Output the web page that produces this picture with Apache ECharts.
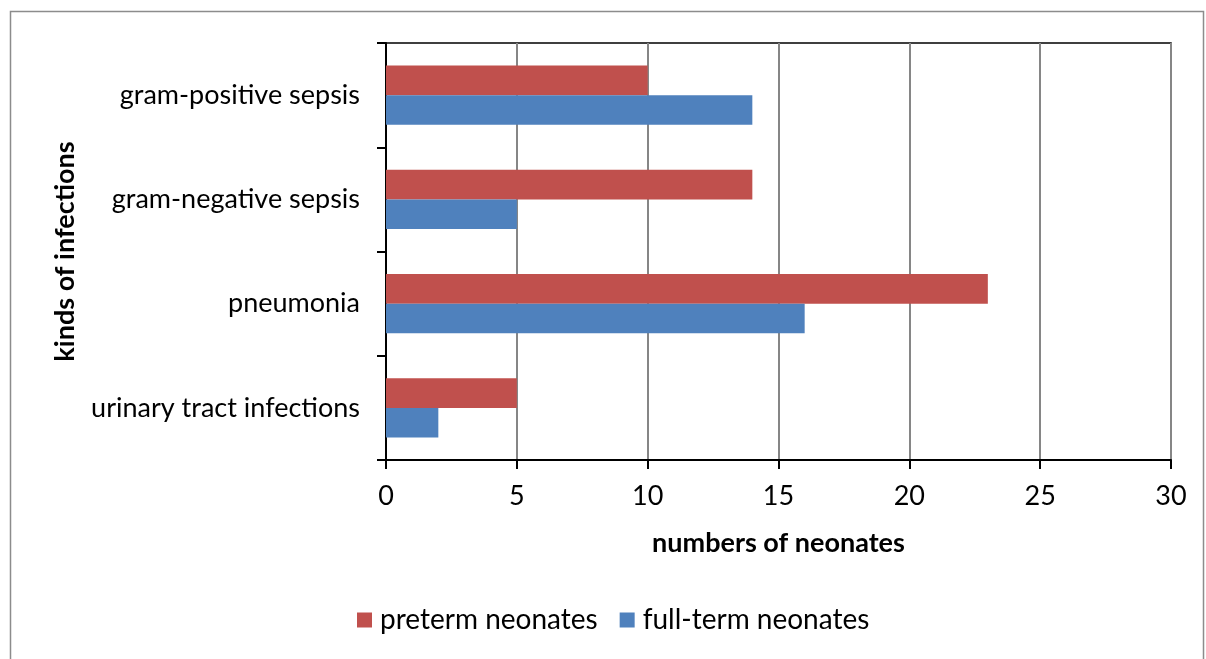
<!DOCTYPE html>
<html>
<head>
<meta charset="utf-8">
<script src="https://cdn.jsdelivr.net/npm/echarts@6/dist/echarts.min.js"></script>
<style>
html, body { margin: 0; padding: 0; background: #fff; }
#chart1 { width: 1206px; height: 659px; }
</style>
</head>
<body>
<div id="chart1"></div>
<script>
var myChart = echarts.init(document.getElementById('chart1'));

// 感染类型 (从下到上)
var categories = ['urinary tract infections', 'pneumonia', 'gram-negative sepsis', 'gram-positive sepsis'];
var preterm = [5, 23, 14, 10];
var fullTerm = [2, 16, 5, 14];
var xTicks = [0, 5, 10, 15, 20, 25, 30];

var font = 'Lato, "Open Sans", sans-serif';
var fs = 27;

var option = {
	textStyle: { fontFamily: font },
	animation: false,
	graphic: [{
		type: 'rect',
		shape: { x: 10.5, y: 11.5, width: 1193, height: 660 },
		style: { fill: 'none', stroke: '#8c8c8c', lineWidth: 1.5 },
		silent: true
	}],
	grid: {
		left: 386, top: 43, right: 35, bottom: 199,
		show: true,
		borderColor: '#000',
		borderWidth: 1.5,
		containLabel: false
	},
	legend: {
		data: ['preterm neonates', 'full-term neonates'],
		left: 357,
		top: 606,
		padding: 0,
		itemWidth: 15,
		itemHeight: 15,
		itemGap: 22,
		icon: 'rect',
		textStyle: { color: '#000', fontSize: 28, fontFamily: font, padding: [0, 0, 0, 3] }
	},
	xAxis: {
		type: 'value',
		min: xTicks[0],
		max: xTicks[xTicks.length - 1],
		interval: 5,
		name: 'numbers of neonates',
		nameLocation: 'middle',
		nameGap: 70,
		nameTextStyle: { color: '#000', fontSize: fs, fontWeight: 'bold', fontFamily: font },
		axisLine: { show: true, lineStyle: { color: '#000', width: 2 } },
		axisTick: { show: true, length: 9, lineStyle: { color: '#000', width: 2 } },
		axisLabel: { color: '#000', fontSize: fs, margin: 23, fontFamily: font },
		splitLine: { show: true, lineStyle: { color: '#868686', width: 2 } }
	},
	yAxis: {
		type: 'category',
		data: categories,
		name: 'kinds of infections',
		nameLocation: 'middle',
		nameGap: 307,
		nameRotate: 90,
		nameTextStyle: { color: '#000', fontSize: fs, fontWeight: 'bold', fontFamily: font },
		axisLine: { show: true, lineStyle: { color: '#000', width: 2 } },
		axisTick: { show: true, length: 9, lineStyle: { color: '#000', width: 2 } },
		axisLabel: { color: '#000', fontSize: fs, margin: 26, fontFamily: font },
		splitLine: { show: false }
	},
	series: [
		{
			name: 'preterm neonates',
			type: 'bar',
			data: preterm,
			barGap: '0%',
			barCategoryGap: '43%',
			itemStyle: { color: '#C0504D' }
		},
		{
			name: 'full-term neonates',
			type: 'bar',
			data: fullTerm,
			barGap: '0%',
			barCategoryGap: '43%',
			itemStyle: { color: '#4F81BD' }
		}
	]
};
myChart.setOption(option);
</script>
</body>
</html>
